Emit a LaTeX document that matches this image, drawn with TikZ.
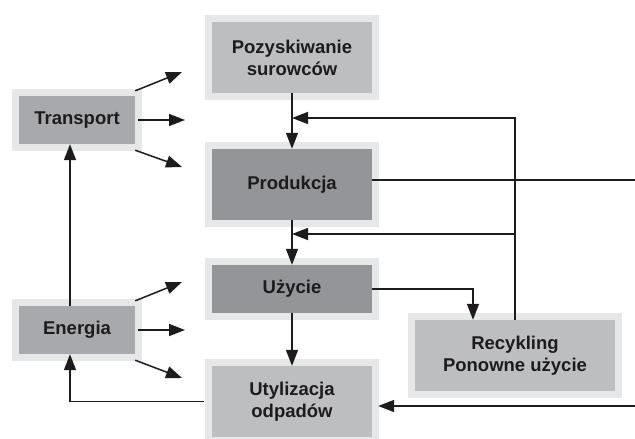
\documentclass[tikz,border=0pt]{standalone}
\usepackage{fontspec}
\setmainfont{Liberation Sans}
\usetikzlibrary{arrows.meta}
\definecolor{frame}{HTML}{E6E7E8}
\definecolor{light}{HTML}{BCBEC0}
\definecolor{mid}{HTML}{A7A9AC}
\definecolor{dark}{HTML}{939598}
\definecolor{ink}{HTML}{1E1B1C}

\begin{document}
\begin{tikzpicture}[x=1pt,y=-1pt,
  box/.style={preaction={draw=frame,line width=14pt},inner sep=0pt,
    align=center,text=ink,font=\fontsize{18.5}{22}\selectfont\bfseries},
  big/.style={box,minimum width=160pt,minimum height=71pt},
  small/.style={box,fill=mid,minimum width=116pt,minimum height=48pt},
  ln/.style={draw=ink,line width=1.5pt},
  arr/.style={ln,-{Triangle[length=16pt,width=12pt]}}]
  \useasboundingbox (0,0) rectangle (635,439);
  \node[big,fill=light] (poz) at (292,57.5) {Pozyskiwanie\\surowców};
  \node[big,fill=dark] (prod) at (292,184.5) {Produkcja};
  \node[big,fill=dark,minimum height=48pt] (uzy) at (292,289) {Użycie};
  \node[big,fill=light] (uty) at (292,401.5) {Utylizacja\\odpadów};
  \node[small] (tra) at (77,120) {Transport};
  \node[small] (ene) at (77,330) {Energia};
  \node[box,fill=light,minimum width=200pt,minimum height=71pt] (rec) at (515,355.5) {Recykling\\Ponowne użycie};
  \coordinate (ta) at (182,72);
  \coordinate (tb) at (185,120);
  \coordinate (tc) at (182,167);
  \coordinate (ea) at (182,282);
  \coordinate (eb) at (185,330);
  \coordinate (ec) at (182,378);
  \coordinate (j1) at (515,118);
  \coordinate (j2) at (515,234);
  \coordinate (e1) at (635,180);
  \coordinate (e2) at (635,406);
  \draw[arr] (poz) -- (prod);
  \draw[arr] (prod) -- (uzy);
  \draw[arr] (uzy) -- (uty);
  \draw[arr] (rec.north) |- (poz.south |- j1);
  \draw[arr] (j2) -- (prod.south |- j2);
  \draw[ln] (prod.east |- e1) -- (e1);
  \draw[arr] (e2) -- ([xshift=6pt]uty.east |- e2);
  \draw[arr] (uzy.east) -| ([xshift=-42pt]rec.north);
  \draw[arr] ([xshift=-8pt]uty.west) -| ([xshift=-7pt]ene.south);
  \draw[arr] ([xshift=-7pt]ene.north) -- ([xshift=-7pt]tra.south);
  \draw[arr] ([yshift=5pt]tra.north east) -- (ta);
  \draw[arr] ([xshift=3pt]tra.east) -- (tb);
  \draw[arr] ([yshift=-6pt]tra.south east) -- (tc);
  \draw[arr] ([yshift=5pt]ene.north east) -- (ea);
  \draw[arr] ([xshift=3pt]ene.east) -- (eb);
  \draw[arr] ([yshift=-6pt]ene.south east) -- (ec);
\end{tikzpicture}
\end{document}
